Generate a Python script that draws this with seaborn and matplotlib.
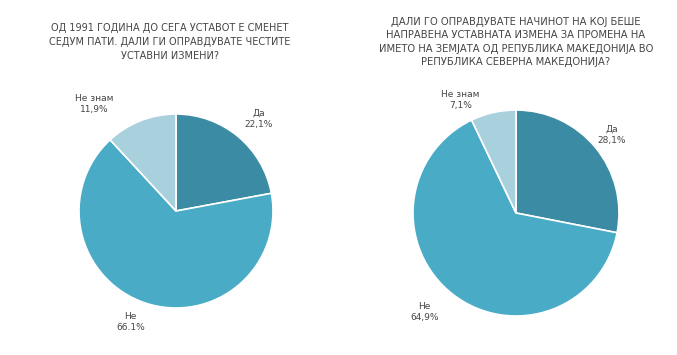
import seaborn as sns
import matplotlib
matplotlib.use("Agg")
import matplotlib.pyplot as plt

sns.set_style("white")
plt.rcParams["font.family"] = ["DejaVu Sans"]
plt.rcParams["font.size"] = 7

categories = ["Да", "Не", "Не знам"]
left_values = [22.1, 66.1, 11.9]
left_labels = ["Да\n22,1%", "Не\n66.1%", "Не знам\n11,9%"]
right_values = [28.1, 64.9, 7.1]
right_labels = ["Да\n28,1%", "Не\n64,9%", "Не знам\n7,1%"]

left_title = "ОД 1991 ГОДИНА ДО СЕГА УСТАВОТ Е СМЕНЕТ\nСЕДУМ ПАТИ. ДАЛИ ГИ ОПРАВДУВАТЕ ЧЕСТИТЕ\nУСТАВНИ ИЗМЕНИ?"
right_title = ("ДАЛИ ГО ОПРАВДУВАТЕ НАЧИНОТ НА КОЈ БЕШЕ\nНАПРАВЕНА УСТАВНАТА ИЗМЕНА ЗА ПРОМЕНА НА\n"
               "ИМЕТО НА ЗЕМЈАТА ОД РЕПУБЛИКА МАКЕДОНИЈА ВО\nРЕПУБЛИКА СЕВЕРНА МАКЕДОНИЈА?")

colors = ["#3b8ba4", "#4aabc6", "#a9d0dd"]
text_c = "#454545"

W, H = 677, 355
fig = plt.figure(figsize=(W / 100, H / 100), dpi=100)


def make_pie(cx, cy, r, values, labels, label_pos):
    ax = fig.add_axes([(cx - r) / W, 1 - (cy + r) / H, 2 * r / W, 2 * r / H])
    ax.pie(values, colors=colors, startangle=90, counterclock=False,
           wedgeprops=dict(edgecolor="white", linewidth=1.2))
    ax.set_xlim(-1, 1)
    ax.set_ylim(-1, 1)
    ax.set_aspect("equal")
    ax.axis("off")
    for lab, (x, y) in zip(labels, label_pos):
        ax.text(x, y, lab, ha="center", va="center", color=text_c,
                fontsize=6.5, linespacing=1.3, clip_on=False)
    return ax


make_pie(176, 211, 97, left_values, left_labels,
         [(0.85, 0.95), (-0.47, -1.14), (-0.84, 1.10)])
make_pie(516, 213, 103, right_values, right_labels,
         [(0.93, 0.76), (-0.89, -0.96), (-0.54, 1.10)])

fig.text(170 / W, 1 - 42 / H, left_title, ha="center", va="center",
         color=text_c, fontsize=7, linespacing=1.45)
fig.text(516 / W, 1 - 42 / H, right_title, ha="center", va="center",
         color=text_c, fontsize=7.2, linespacing=1.45)

fig.savefig("out.png", dpi=100)
